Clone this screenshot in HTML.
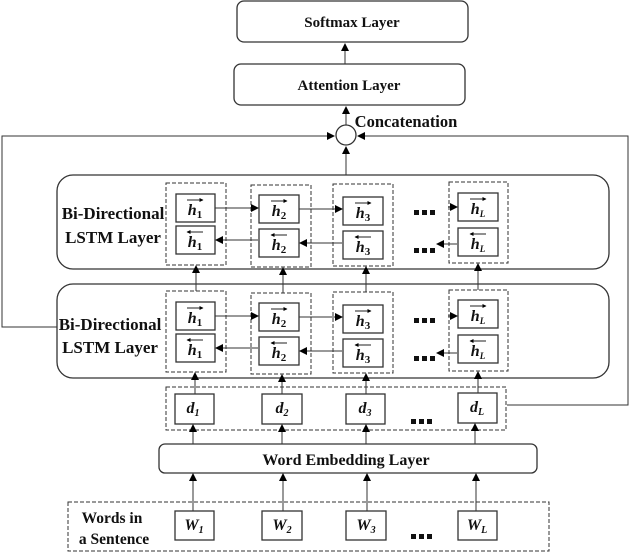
<!DOCTYPE html>
<html><head><style>
html,body{margin:0;padding:0;background:#fff;}
svg{display:block;}
text{font-family:"Liberation Serif",serif;font-weight:bold;fill:#111;}
</style></head><body>
<svg width="631" height="557" viewBox="0 0 631 557" xmlns="http://www.w3.org/2000/svg">
<defs>
<marker id="a" markerWidth="8" markerHeight="8" refX="7" refY="4" orient="auto" markerUnits="userSpaceOnUse"><path d="M0,0 L8,4 L0,8 z" fill="#000"/></marker>
<marker id="s" markerWidth="4" markerHeight="4" refX="3.5" refY="2" orient="auto" markerUnits="userSpaceOnUse"><path d="M0,0 L4,2 L0,4 z" fill="#000"/></marker>
</defs>
<g stroke="#333" fill="none" stroke-width="1.3">
<rect x="237" y="1" width="231" height="41" rx="7"/>
<rect x="234" y="64" width="231" height="41" rx="7"/>
<circle cx="346" cy="135" r="10"/>
<rect x="57" y="175" width="552" height="94" rx="16"/>
<rect x="57" y="284" width="552" height="94" rx="16"/>
<rect x="159" y="444" width="378" height="29" rx="6"/>
</g>
<g stroke="#333" stroke-width="1" fill="none">
<line x1="345" y1="64" x2="345" y2="44" marker-end="url(#a)"/>
<line x1="346" y1="125" x2="346" y2="107" marker-end="url(#a)"/>
<line x1="346" y1="175" x2="346" y2="147" marker-end="url(#a)"/>
<polyline points="57,327 2,327 2,136 334,136" marker-end="url(#a)"/>
<polyline points="507,405 628,405 628,136 358,136" marker-end="url(#a)"/>
</g>
<g stroke="#333" stroke-width="1" fill="none" stroke-dasharray="4,2">
<rect x="166" y="183" width="60" height="82"/>
<rect x="251" y="185" width="60" height="82"/>
<rect x="333" y="184" width="60" height="82"/>
<rect x="449" y="182" width="59" height="81"/>
<rect x="166" y="291" width="60" height="81"/>
<rect x="251" y="293" width="60" height="81"/>
<rect x="333" y="292" width="60" height="81"/>
<rect x="449" y="290" width="59" height="81"/>
<rect x="166" y="387" width="340" height="43"/>
<rect x="68" y="502" width="481" height="49"/>
</g>
<g stroke="#333" stroke-width="1.3" fill="#fff">
<rect x="176" y="194" width="39" height="28"/><rect x="176" y="226" width="39" height="28"/>
<rect x="259" y="195" width="40" height="28"/><rect x="259" y="229" width="40" height="28"/>
<rect x="343" y="197" width="40" height="28"/><rect x="343" y="231" width="40" height="28"/>
<rect x="458" y="193" width="40" height="28"/><rect x="458" y="228" width="40" height="28"/>
<rect x="176" y="302" width="39" height="28"/><rect x="176" y="334" width="39" height="28"/>
<rect x="259" y="303" width="40" height="28"/><rect x="259" y="337" width="40" height="28"/>
<rect x="343" y="305" width="40" height="28"/><rect x="343" y="339" width="40" height="28"/>
<rect x="458" y="300" width="40" height="28"/><rect x="458" y="335" width="40" height="28"/>
<rect x="175" y="394" width="39" height="30"/><rect x="262" y="394" width="40" height="30"/>
<rect x="346" y="394" width="39" height="30"/><rect x="458" y="393" width="39" height="30"/>
<rect x="175" y="511" width="39" height="29"/><rect x="262" y="511" width="40" height="29"/>
<rect x="346" y="511" width="40" height="29"/><rect x="458" y="511" width="39" height="29"/>
</g>
<g stroke="#333" stroke-width="1" fill="none">
<line x1="215" y1="208" x2="258" y2="208" marker-end="url(#a)"/>
<line x1="299" y1="209" x2="342" y2="209" marker-end="url(#a)"/>
<line x1="448" y1="207" x2="457" y2="207" marker-end="url(#a)"/>
<line x1="258" y1="240" x2="216" y2="240" marker-end="url(#a)"/>
<line x1="342" y1="243" x2="300" y2="243" marker-end="url(#a)"/>
<line x1="457" y1="244" x2="437" y2="244" marker-end="url(#a)"/>
<line x1="215" y1="316" x2="258" y2="316" marker-end="url(#a)"/>
<line x1="299" y1="317" x2="342" y2="317" marker-end="url(#a)"/>
<line x1="448" y1="316" x2="457" y2="316" marker-end="url(#a)"/>
<line x1="258" y1="348" x2="216" y2="348" marker-end="url(#a)"/>
<line x1="342" y1="351" x2="300" y2="351" marker-end="url(#a)"/>
<line x1="457" y1="353" x2="437" y2="353" marker-end="url(#a)"/>
<line x1="196" y1="291" x2="196" y2="266" marker-end="url(#a)"/>
<line x1="283" y1="293" x2="283" y2="268" marker-end="url(#a)"/>
<line x1="366" y1="292" x2="366" y2="267" marker-end="url(#a)"/>
<line x1="478" y1="290" x2="478" y2="264" marker-end="url(#a)"/>
<line x1="195" y1="394" x2="195" y2="373" marker-end="url(#a)"/>
<line x1="282" y1="394" x2="282" y2="375" marker-end="url(#a)"/>
<line x1="366" y1="394" x2="366" y2="374" marker-end="url(#a)"/>
<line x1="478" y1="393" x2="478" y2="372" marker-end="url(#a)"/>
<line x1="193" y1="444" x2="193" y2="425" marker-end="url(#a)"/>
<line x1="282" y1="444" x2="282" y2="425" marker-end="url(#a)"/>
<line x1="366" y1="444" x2="366" y2="425" marker-end="url(#a)"/>
<line x1="475" y1="444" x2="475" y2="424" marker-end="url(#a)"/>
<line x1="193" y1="511" x2="193" y2="474" marker-end="url(#a)"/>
<line x1="283" y1="511" x2="283" y2="474" marker-end="url(#a)"/>
<line x1="367" y1="511" x2="367" y2="474" marker-end="url(#a)"/>
<line x1="476" y1="511" x2="476" y2="474" marker-end="url(#a)"/>
</g>
<g font-size="15" text-anchor="middle">
<text x="352" y="27">Softmax Layer</text>
<text x="349" y="90">Attention Layer</text>
<text x="406" y="127" font-size="16.5">Concatenation</text>
<text x="113" y="219" font-size="17">Bi-Directional</text>
<text x="113" y="243" font-size="17">LSTM Layer</text>
<text x="110" y="330" font-size="17">Bi-Directional</text>
<text x="110" y="353" font-size="17">LSTM Layer</text>
<text x="346" y="465" font-size="16">Word Embedding Layer</text>
<text x="112" y="523" font-size="15.5">Words in</text>
<text x="114" y="544" font-size="15.5">a Sentence</text>
</g>
<g font-size="16" font-style="italic" text-anchor="middle">
<text x="195" y="215">h<tspan font-size="11" font-style="normal" dy="3">1</tspan></text>
<text x="195" y="247">h<tspan font-size="11" font-style="normal" dy="3">1</tspan></text>
<text x="279" y="216">h<tspan font-size="11" font-style="normal" dy="3">2</tspan></text>
<text x="279" y="250">h<tspan font-size="11" font-style="normal" dy="3">2</tspan></text>
<text x="363" y="218">h<tspan font-size="11" font-style="normal" dy="3">3</tspan></text>
<text x="363" y="252">h<tspan font-size="11" font-style="normal" dy="3">3</tspan></text>
<text x="478" y="214">h<tspan font-size="9" dy="3">L</tspan></text>
<text x="478" y="249">h<tspan font-size="9" dy="3">L</tspan></text>
<text x="195" y="323">h<tspan font-size="11" font-style="normal" dy="3">1</tspan></text>
<text x="195" y="355">h<tspan font-size="11" font-style="normal" dy="3">1</tspan></text>
<text x="279" y="324">h<tspan font-size="11" font-style="normal" dy="3">2</tspan></text>
<text x="279" y="358">h<tspan font-size="11" font-style="normal" dy="3">2</tspan></text>
<text x="363" y="326">h<tspan font-size="11" font-style="normal" dy="3">3</tspan></text>
<text x="363" y="360">h<tspan font-size="11" font-style="normal" dy="3">3</tspan></text>
<text x="478" y="321">h<tspan font-size="9" dy="3">L</tspan></text>
<text x="478" y="356">h<tspan font-size="9" dy="3">L</tspan></text>
<text x="193" y="413">d<tspan font-size="10" dy="3">1</tspan></text>
<text x="282" y="413">d<tspan font-size="10" dy="3">2</tspan></text>
<text x="365" y="413">d<tspan font-size="10" dy="3">3</tspan></text>
<text x="477" y="412">d<tspan font-size="10" dy="3">L</tspan></text>
<text x="194" y="530">W<tspan font-size="10" dy="3">1</tspan></text>
<text x="282" y="530">W<tspan font-size="10" dy="3">2</tspan></text>
<text x="366" y="530">W<tspan font-size="10" dy="3">3</tspan></text>
<text x="477" y="530">W<tspan font-size="10" dy="3">L</tspan></text>
</g>
<g stroke="#222" stroke-width="1">
<line x1="187" y1="200" x2="203" y2="200" marker-end="url(#s)"/><line x1="203" y1="232" x2="187" y2="232" marker-end="url(#s)"/>
<line x1="271" y1="201" x2="287" y2="201" marker-end="url(#s)"/><line x1="287" y1="235" x2="271" y2="235" marker-end="url(#s)"/>
<line x1="355" y1="203" x2="371" y2="203" marker-end="url(#s)"/><line x1="371" y1="237" x2="355" y2="237" marker-end="url(#s)"/>
<line x1="470" y1="199" x2="486" y2="199" marker-end="url(#s)"/><line x1="486" y1="234" x2="470" y2="234" marker-end="url(#s)"/>
<line x1="187" y1="308" x2="203" y2="308" marker-end="url(#s)"/><line x1="203" y1="340" x2="187" y2="340" marker-end="url(#s)"/>
<line x1="271" y1="309" x2="287" y2="309" marker-end="url(#s)"/><line x1="287" y1="343" x2="271" y2="343" marker-end="url(#s)"/>
<line x1="355" y1="311" x2="371" y2="311" marker-end="url(#s)"/><line x1="371" y1="345" x2="355" y2="345" marker-end="url(#s)"/>
<line x1="470" y1="306" x2="486" y2="306" marker-end="url(#s)"/><line x1="486" y1="341" x2="470" y2="341" marker-end="url(#s)"/>
</g>
<g fill="#111">
<g id="d1"><rect x="414" y="210" width="5" height="5"/><rect x="422" y="210" width="5" height="5"/><rect x="430" y="210" width="5" height="5"/></g>
<use href="#d1" y="38"/><use href="#d1" y="108"/><use href="#d1" y="146"/><use href="#d1" x="-3" y="209"/><use href="#d1" x="-3" y="324"/>
</g>
</svg>
</body></html>
